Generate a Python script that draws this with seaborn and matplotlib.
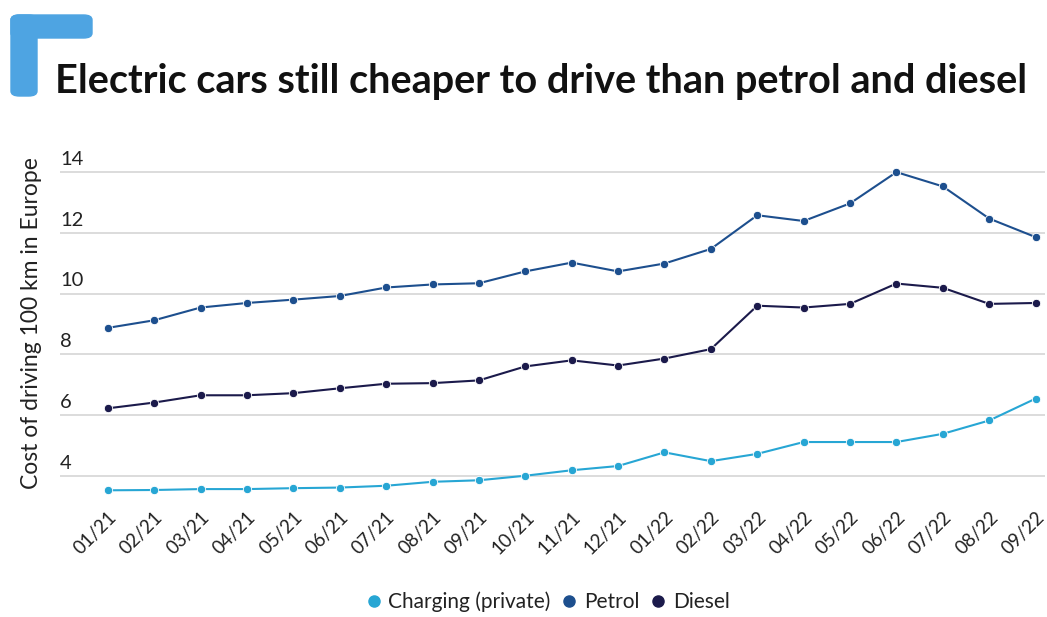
import pandas as pd
import matplotlib.pyplot as plt
import seaborn as sns
from matplotlib.lines import Line2D
from matplotlib.patches import FancyBboxPatch

# waarden
maanden = ["01/21", "02/21", "03/21", "04/21", "05/21", "06/21", "07/21", "08/21", "09/21", "10/21", "11/21",
           "12/21", "01/22", "02/22", "03/22", "04/22", "05/22", "06/22", "07/22", "08/22", "09/22"]
laden = [3.52, 3.53, 3.56, 3.56, 3.59, 3.61, 3.67, 3.80, 3.85, 4.00, 4.18,
         4.32, 4.77, 4.48, 4.72, 5.11, 5.11, 5.11, 5.38, 5.82, 6.54]
benzine = [8.87, 9.12, 9.54, 9.69, 9.80, 9.92, 10.20, 10.30, 10.34, 10.73, 11.02,
           10.73, 10.99, 11.47, 12.58, 12.39, 12.97, 14.00, 13.53, 12.47, 11.86]
diesel = [6.22, 6.41, 6.65, 6.65, 6.72, 6.88, 7.03, 7.05, 7.14, 7.60, 7.80,
          7.63, 7.86, 8.17, 9.60, 9.54, 9.66, 10.33, 10.19, 9.66, 9.69]
reeksen = ["Charging (private)", "Petrol", "Diesel"]
y_ticks = [4, 6, 8, 10, 12, 14]

kleuren = {"Charging (private)": "#27a6d4", "Petrol": "#1d4f8e", "Diesel": "#1b1a4b"}

df = pd.DataFrame({
    "maand": maanden * 3,
    "kosten": laden + benzine + diesel,
    "soort": [reeksen[0]] * len(maanden) + [reeksen[1]] * len(maanden) + [reeksen[2]] * len(maanden),
})

sns.set_theme(style="white")
plt.rcParams["font.family"] = ["Lato", "DejaVu Sans"]

fig = plt.figure(figsize=(10.47, 6.17), dpi=100)
ax = fig.add_axes([0.0573, 0.1896, 0.9407, 0.5511])

sns.lineplot(data=df, x="maand", y="kosten", hue="soort", palette=kleuren, sort=False,
             marker="o", markersize=6, markeredgecolor="white", markeredgewidth=0.6,
             linewidth=1.5, legend=False, ax=ax)

ax.set_xlim(-1.03, 20.2)
ax.set_ylim(3.2, 14.4)
ax.set_yticks(y_ticks)
ax.set_yticklabels([])
ax.tick_params(axis="y", length=0)
ax.grid(axis="y", color="#dcdcdc", linewidth=1.4)
ax.grid(axis="x", visible=False)
ax.set_axisbelow(True)
for kant in ax.spines.values():
    kant.set_visible(False)

# y-labels boven de rasterlijnen, zoals in het origineel
for t in y_ticks:
    ax.annotate(str(t), xy=(0, t), xycoords=ax.get_yaxis_transform(), xytext=(0, 3),
                textcoords="offset points", ha="left", va="bottom", fontsize=14.5, color="#222222")

ax.tick_params(axis="x", length=0, pad=6)
plt.setp(ax.get_xticklabels(), rotation=45, ha="right", rotation_mode="anchor", fontsize=13.5, color="#222222")
ax.set_xlabel("")
ax.set_ylabel("Cost of driving 100 km in Europe", fontsize=16.5, color="#222222")
ax.yaxis.set_label_coords(-0.0185, 0.52)

fig.text(0.053, 0.868, "Electric cars still cheaper to drive than petrol and diesel",
         fontsize=28.5, fontweight="bold", color="#111111", ha="left", va="center")

# blauwe hoek linksboven
fig.patches.append(FancyBboxPatch((11 / 1047, 1 - 38 / 617), 81 / 1047, 23 / 617, boxstyle="round,pad=0,rounding_size=0.008",
                                  transform=fig.transFigure, color="#4ea4e2", zorder=0))
fig.patches.append(FancyBboxPatch((11 / 1047, 1 - 96 / 617), 26 / 1047, 81 / 617, boxstyle="round,pad=0,rounding_size=0.008",
                                  transform=fig.transFigure, color="#4ea4e2", zorder=0))

handles = [Line2D([], [], marker="o", linestyle="", markersize=8, color=kleuren[r]) for r in reeksen]
fig.legend(handles, reeksen, loc="lower center", bbox_to_anchor=(0.52, -0.022), ncol=3, frameon=False,
           fontsize=15, handletextpad=0.0, columnspacing=0.2, handlelength=1.4, labelcolor="#222222")

fig.savefig("out.png", dpi=100)
